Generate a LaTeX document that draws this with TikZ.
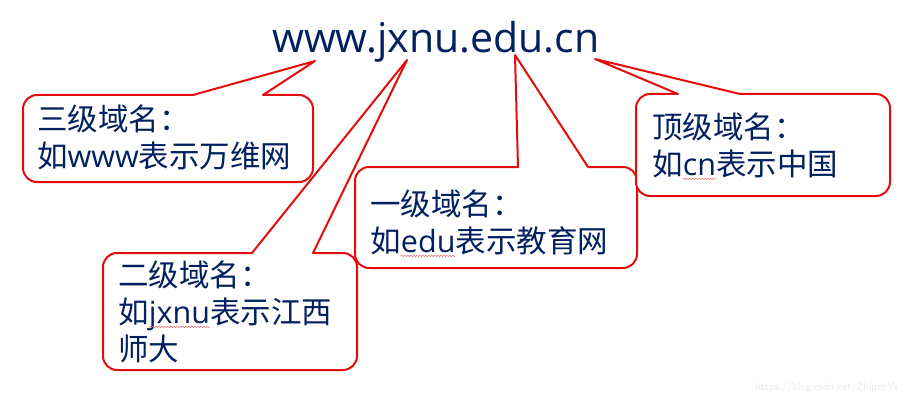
\documentclass[tikz,border=0pt]{standalone}
\usepackage{fontspec}
\setmainfont{Open Sans}
\newfontfamily\cjk{Noto Sans CJK SC}
\usetikzlibrary{decorations.pathmorphing}
\definecolor{navy}{RGB}{0,32,96}
\definecolor{cred}{RGB}{228,12,12}
\newcommand\zh[1]{{\cjk #1}}
\newcommand\spell[1]{\tikz[baseline=0pt]{\node[inner sep=0pt,outer sep=0pt,anchor=base west] (sw) at (0,0) {#1};
  \draw[cred!60, line width=0.5pt, decorate, decoration={snake,amplitude=0.7pt,segment length=3pt}] ([yshift=-3pt]sw.base west) -- ([yshift=-3pt]sw.base east);}}
% #1 L, #2 B, #3 R, #4 T, #5 b1, #6 b2, #7 tip
\newcommand\calloutshape[7]{\draw[callbox] (#5,#4) -- (#7) -- (#6,#4) -- ({#3-14},#4)
  arc[start angle=90,end angle=0,radius=14pt] -- (#3,{#2+14})
  arc[start angle=0,end angle=-90,radius=14pt] -- ({#1+14},#2)
  arc[start angle=270,end angle=180,radius=14pt] -- (#1,{#4-14})
  arc[start angle=180,end angle=90,radius=14pt] -- cycle;}
\begin{document}
\begin{tikzpicture}[x=1pt,y=1pt,
  callbox/.style={draw=cred, line width=2pt, fill=white, line join=round},
  calltext/.style={font=\fontsize{30.5}{37}\selectfont, text=navy, align=left, inner sep=0pt, anchor=north west},
  titletext/.style={font=\fontsize{41}{50}\selectfont, text=navy, inner sep=0pt, anchor=base west},
  wmark/.style={font=\fontsize{11}{12}\selectfont\sffamily, text=black!8, inner sep=0pt, anchor=base east}]
\useasboundingbox (0,0) rectangle (906,400);
\fill[white] (0,0) rectangle (906,400);

\node[titletext] (title) at (272,347) {www.jxnu.edu.cn};

\coordinate (tip1) at (315,339);
\coordinate (tip2) at (407,340);
\coordinate (tip3) at (515,345);
\coordinate (tip4) at (595,341);

\calloutshape{103}{30}{357}{147}{252}{313}{tip2}
\calloutshape{23}{218}{313}{305}{193}{263}{tip1}
\calloutshape{355}{132}{637}{233}{518}{588}{tip3}
\calloutshape{636}{204}{890}{306}{678}{740}{tip4}

\node[calltext] (t1) at (37,295) {\zh{三级域名：}\\\zh{如}www\zh{表示万维网}};
\node[calltext] (t2) at (118,139) {\zh{二级域名：}\\\zh{如}\spell{jxnu}\zh{表示江西}\\\zh{师大}};
\node[calltext] (t3) at (370,210) {\zh{一级域名：}\\\zh{如}\spell{edu}\zh{表示教育网}};
\node[calltext] (t4) at (652,287) {\zh{顶级域名：}\\\zh{如}\spell{cn}\zh{表示中国}};

\node[wmark] (wm) at (898,10) {https://blog.csdn.net/ZhipenYs};
\end{tikzpicture}
\end{document}
